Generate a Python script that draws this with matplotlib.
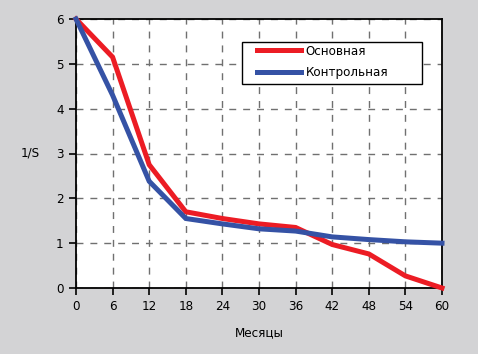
import matplotlib
matplotlib.use("Agg")
from matplotlib import pyplot as plt
from matplotlib.patches import Rectangle

months = [0, 6, 12, 18, 24, 30, 36, 42, 48, 54, 60]
main_group = [6.0, 5.15, 2.75, 1.70, 1.55, 1.43, 1.35, 0.97, 0.76, 0.27, 0.0]
control_group = [6.0, 4.30, 2.38, 1.55, 1.43, 1.32, 1.27, 1.14, 1.08, 1.03, 1.0]
y_ticks = [0, 1, 2, 3, 4, 5, 6]

plt.rcParams['font.family'] = ['Liberation Sans Narrow', 'DejaVu Sans']
plt.rcParams['font.stretch'] = 'condensed'
plt.rcParams['font.size'] = 9.5

W, H = 478, 354
fig = plt.figure(figsize=(W / 100, H / 100), dpi=100, facecolor='#d3d3d5')
ax = fig.add_axes([76 / W, 66 / H, 366 / W, 269 / H])
ax.set_facecolor('white')

ax.plot(months, main_group, color='#ec1c24', lw=3.6, label='Основная',
        clip_on=False, zorder=3, solid_joinstyle='miter')
ax.plot(months, control_group, color='#3552a5', lw=3.6, label='Контрольная',
        clip_on=False, zorder=4, solid_joinstyle='miter')

ax.set_xlim(0, 60)
ax.set_ylim(0, 6)
ax.set_xticks(months)
ax.set_yticks(y_ticks)
ax.grid(True, color='#707070', lw=1.0, linestyle=(0, (5, 5)))
ax.tick_params(direction='out', length=5, width=1.2, color='black', pad=4)
for s in ax.spines.values():
    s.set_color('black')
    s.set_linewidth(1.3)

ax.set_xlabel('Месяцы', va='center')
ax.xaxis.set_label_coords(0.5, -0.166)
ax.set_ylabel('1/S', rotation=0, va='center', ha='center')
ax.yaxis.set_label_coords(-0.126, 0.5)

# legend frame: 242..422 px across, 42..84 px down (axes spans 76..442, 19..288)
frame = Rectangle(((242 - 76) / 366, (288 - 84) / 269), 180 / 366, 42 / 269,
                  transform=ax.transAxes, facecolor='white', edgecolor='black',
                  lw=1.0, zorder=5, clip_on=False)
ax.add_patch(frame)
leg = ax.legend(loc='center left',
                bbox_to_anchor=((257 - 76) / 366, (288 - 62) / 269),
                frameon=False, handlelength=3.3, handletextpad=0.4,
                borderpad=0, labelspacing=0.65, borderaxespad=0)
leg.set_zorder(6)

fig.savefig('out.png', dpi=100, facecolor=fig.get_facecolor())
